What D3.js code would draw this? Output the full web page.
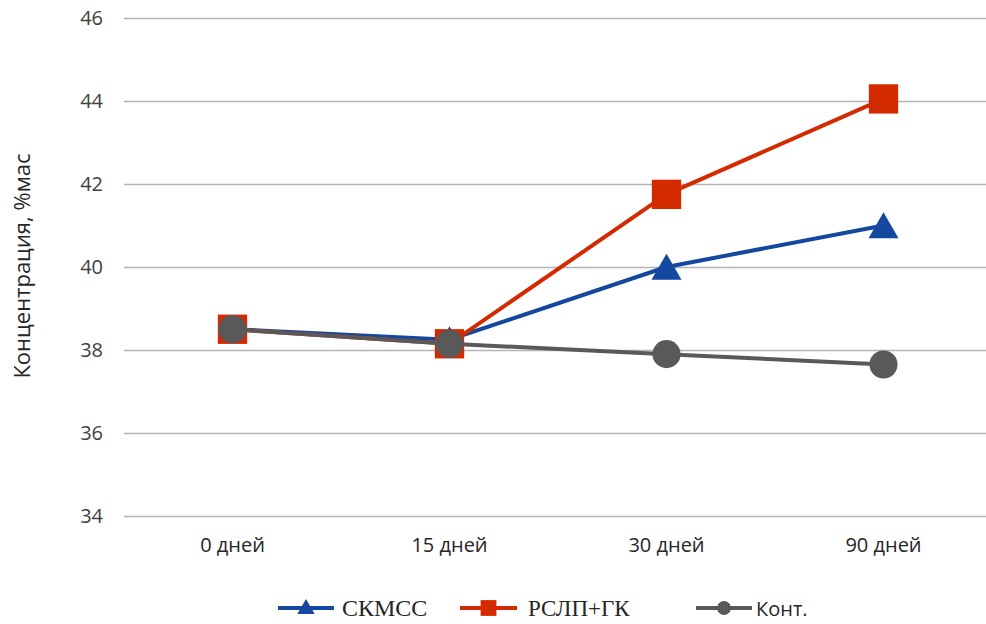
<!DOCTYPE html>
<html>
<head>
<meta charset="utf-8">
<script src="https://cdn.jsdelivr.net/npm/d3@7/dist/d3.min.js"></script>
<style>
  html, body { margin: 0; padding: 0; background: #fff; }
  svg { display: block; }
</style>
</head>
<body>
<svg id="chart" width="986" height="624"></svg>
<script>
// Sampling days and measured concentration per treatment
const categories = ["0 дней", "15 дней", "30 дней", "90 дней"];
const skmss = [38.5, 38.25, 40.0, 41.0];
const rslp = [38.5, 38.15, 41.75, 44.05];
const kont = [38.5, 38.15, 37.9, 37.65];
const yTicks = [34, 36, 38, 40, 42, 44, 46];
const yTitle = "Концентрация, %мас";

const series = [
  { name: "СКМСС", values: skmss, color: "#1447a0", marker: "triangle", font: "'Liberation Serif', 'Times New Roman', serif" },
  { name: "РСЛП+ГК", values: rslp, color: "#d42a00", marker: "square", font: "'Liberation Serif', 'Times New Roman', serif" },
  { name: "Конт.", values: kont, color: "#595959", marker: "circle", font: "'Open Sans', sans-serif" }
];

const svg = d3.select("#chart");
const plot = { left: 124, right: 992, top: 18, bottom: 516 };

const x = d3.scaleBand().domain(categories).range([plot.left, plot.right]);
const y = d3.scaleLinear().domain([34, 46]).range([plot.bottom, plot.top]);

// horizontal gridlines + y tick labels
const yAxis = d3.axisLeft(y).tickValues(yTicks).tickSize(-(plot.right - plot.left)).tickPadding(21).tickFormat(d3.format("d"));
const gy = svg.append("g").attr("transform", `translate(${plot.left},0)`).call(yAxis);
gy.select(".domain").remove();
gy.selectAll(".tick line").attr("stroke", "#b4b4b4").attr("stroke-width", 1.3);
gy.selectAll(".tick text").attr("fill", "#404040").style("font-family", "'Open Sans', sans-serif").style("font-size", "20px");

// category labels
const xAxis = d3.axisBottom(x).tickSize(0).tickPadding(22);
const gx = svg.append("g").attr("transform", `translate(0,${plot.bottom})`).call(xAxis);
gx.select(".domain").remove();
gx.selectAll(".tick text").attr("fill", "#262626").style("font-family", "'Open Sans', sans-serif").style("font-size", "20px");

// axis title
svg.append("text")
  .attr("transform", `translate(30,266) rotate(-90)`)
  .attr("text-anchor", "middle")
  .attr("fill", "#262626")
  .style("font-family", "'Open Sans', sans-serif")
  .style("font-size", "22px")
  .text(yTitle);

const symbols = {
  triangle: d3.symbol().type(d3.symbolTriangle).size(390),
  square: d3.symbol().type(d3.symbolSquare).size(860),
  circle: d3.symbol().type(d3.symbolCircle).size(620)
};
const legendSymbols = {
  triangle: d3.symbol().type(d3.symbolTriangle).size(130),
  square: d3.symbol().type(d3.symbolSquare).size(250),
  circle: d3.symbol().type(d3.symbolCircle).size(150)
};

const line = d3.line()
  .x((d, i) => x(categories[i]) + x.bandwidth() / 2)
  .y(d => y(d));

series.forEach(s => {
  const g = svg.append("g");
  g.append("path")
    .attr("d", line(s.values))
    .attr("fill", "none")
    .attr("stroke", s.color)
    .attr("stroke-width", 4)
    .attr("stroke-linejoin", "round");
  g.selectAll("path.mk").data(s.values).join("path")
    .attr("class", "mk")
    .attr("transform", (d, i) => {
      const dy = s.marker === "triangle" ? 4 : 0;
      return `translate(${x(categories[i]) + x.bandwidth() / 2},${y(d) + dy})`;
    })
    .attr("d", symbols[s.marker]())
    .attr("fill", s.color);
});

// legend
const legendY = 608;
const legendItems = [
  { x0: 278, x1: 334, tx: 342, size: "24px" },
  { x0: 460, x1: 517, tx: 528, size: "23px" },
  { x0: 696, x1: 752, tx: 756, size: "20px" }
];
series.forEach((s, i) => {
  const L = legendItems[i];
  const g = svg.append("g");
  g.append("line").attr("x1", L.x0).attr("x2", L.x1).attr("y1", legendY).attr("y2", legendY)
    .attr("stroke", s.color).attr("stroke-width", 4);
  const dy = s.marker === "triangle" ? 1 : 0;
  g.append("path").attr("transform", `translate(${(L.x0 + L.x1) / 2},${legendY + dy})`)
    .attr("d", legendSymbols[s.marker]()).attr("fill", s.color);
  g.append("text").attr("x", L.tx).attr("y", legendY + 8)
    .attr("fill", "#262626")
    .style("font-family", s.font)
    .style("font-size", L.size)
    .text(s.name);
});
</script>
</body>
</html>
